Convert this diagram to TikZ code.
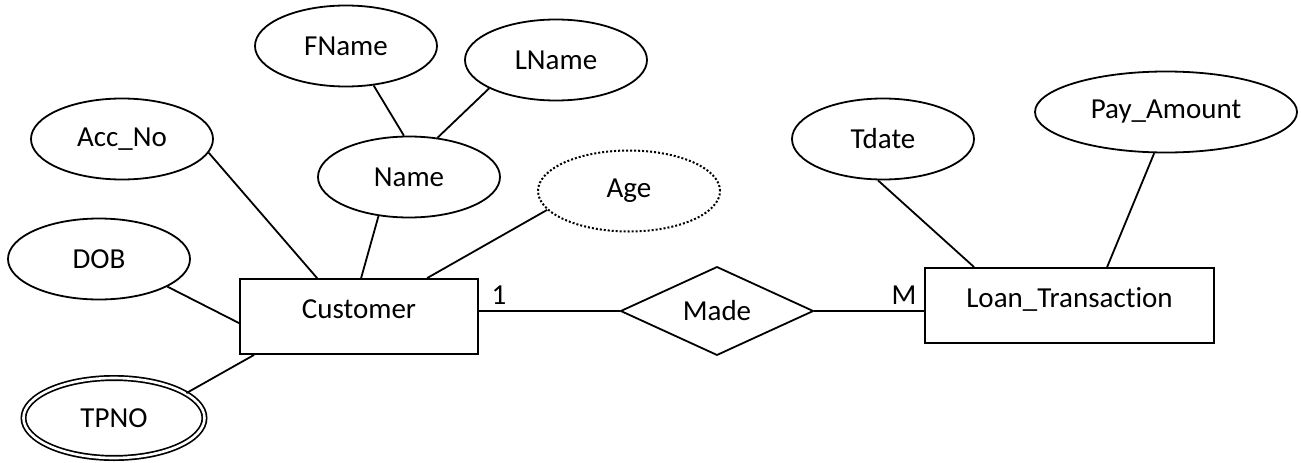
\documentclass[tikz,border=0pt]{standalone}
\usepackage{xcolor}
\usepackage{fontspec}
\setmainfont{Carlito}[Ligatures=NoCommon]
\usetikzlibrary{shapes.geometric}

\begin{document}
\begin{tikzpicture}[x=1pt,y=-1pt]
  \tikzstyle{every node}=[inner sep=0pt, font=\fontsize{29}{34}\selectfont]
  \tikzstyle{attr}=[ellipse, draw, line width=1.8pt, minimum width=182pt, minimum height=81pt]
  \tikzstyle{derived}=[attr, dash pattern=on 2pt off 2pt, line width=2pt]
  \tikzstyle{multi}=[attr, double, double distance=2.6pt, line width=1.7pt]
  \tikzstyle{entity}=[rectangle, draw, line width=1.8pt, minimum height=75pt, text height=20pt, text depth=16pt]
  \tikzstyle{rel}=[diamond, draw, line width=1.8pt, minimum width=193pt, minimum height=86pt]
  \tikzstyle{link}=[line width=1.8pt]
  \useasboundingbox (0,0) rectangle (1301,463);

  % entities and relationship
  \node (Customer)[entity, minimum width=238pt] at (359,316.5) {Customer};
  \node (Loan)[entity, minimum width=289pt] at (1069.5,305.5) {Loan\_Transaction};
  \node (Made)[rel] at (717,311) {Made};

  % attributes
  \node (FName)[attr] at (346,46) {FName};
  \node (LName)[attr] at (556,60) {LName};
  \node (Name)[attr] at (409,177) {Name};
  \node (AccNo)[attr] at (122,139) {Acc\_No};
  \node (Age)[derived] at (629,191) {Age};
  \node (DOB)[attr] at (99,259) {DOB};
  \node (TPNO)[multi, minimum width=181pt, minimum height=80pt] at (114,418) {TPNO};
  \node (Tdate)[attr] at (883,139) {Tdate};
  \node (PayAmount)[attr, minimum width=262pt] at (1166,112) {Pay\_Amount};

  % cardinalities
  \node (One) at (499,295) {1};
  \node (Many) at (904,295) {M};

  % connectors
  \draw[link] (FName.-55) -- (Name.97);
  \draw[link] (LName.-157) -- (Name.54);
  \draw[link] (AccNo.-9) -- ([xshift=78pt]Customer.north west);
  \draw[link] (Name.-128) -- ([xshift=122pt]Customer.north west);
  \draw[link] (Age.-167) -- ([xshift=188pt]Customer.north west);
  \draw[link] (DOB.-22) -- ([yshift=-45pt]Customer.north west);
  \draw[link] (TPNO.19) -- ([xshift=15pt]Customer.south west);
  \draw[link] (Made.west) -- (Made.west -| Customer.east);
  \draw[link] (Made.east) -- (Made.east -| Loan.west);
  \draw[link] (Tdate.-97) -- ([xshift=50pt]Loan.north west);
  \draw[link] (PayAmount.-106) -- ([xshift=183pt]Loan.north west);
\end{tikzpicture}
\end{document}
